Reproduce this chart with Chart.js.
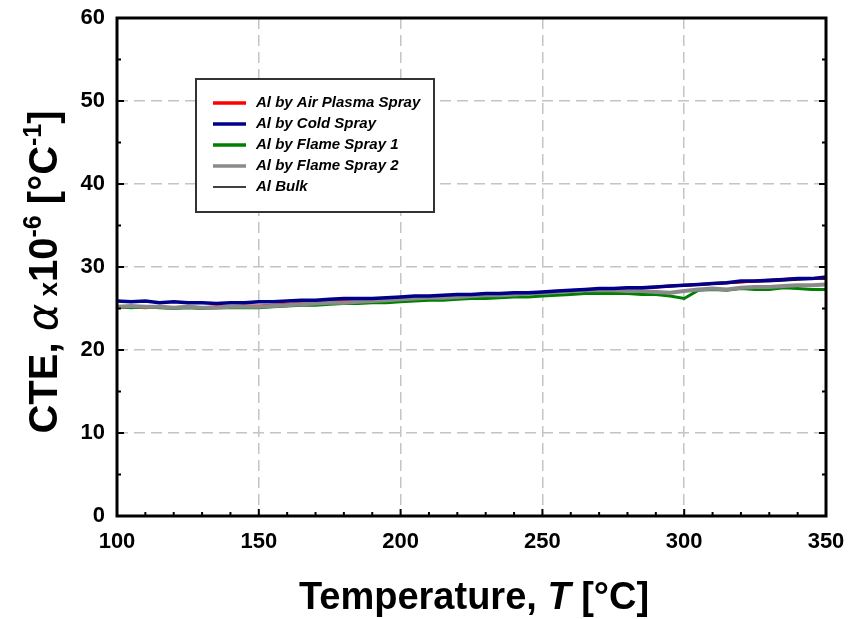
<!DOCTYPE html>
<html>
<head>
<meta charset="utf-8">
<script src="https://cdn.jsdelivr.net/npm/chart.js@4.4.0/dist/chart.umd.min.js"></script>
<style>
  html, body { margin: 0; padding: 0; background: #fff; }
</style>
</head>
<body>
<canvas id="graficoCTE" width="851" height="619"></canvas>
<script>
// Temperatura [°C]
const temperaturas = [
  100, 105, 110, 115, 120, 125, 130, 135, 140, 145,
  150, 155, 160, 165, 170, 175, 180, 185, 190, 195,
  200, 205, 210, 215, 220, 225, 230, 235, 240, 245,
  250, 255, 260, 265, 270, 275, 280, 285, 290, 295,
  300, 305, 310, 315, 320, 325, 330, 335, 340, 345, 350
];

// CTE x10^-6 por serie
const airPlasma = [
  25.1, 25.2, 25.1, 25.2, 25.1, 25.2, 25.1, 25.2, 25.2, 25.3,
  25.3, 25.4, 25.5, 25.6, 25.7, 25.8, 25.9, 25.9, 26.0, 26.0,
  26.1, 26.2, 26.3, 26.4, 26.5, 26.5, 26.6, 26.7, 26.8, 26.8,
  26.9, 27.0, 27.1, 27.2, 27.3, 27.4, 27.4, 27.5, 27.6, 27.7,
  27.8, 27.9, 28.0, 28.1, 28.2, 28.3, 28.4, 28.5, 28.6, 28.6, 28.7
];
const coldSpray = [
  25.9, 25.8, 25.9, 25.7, 25.8, 25.7, 25.7, 25.6, 25.7, 25.7,
  25.8, 25.8, 25.9, 26.0, 26.0, 26.1, 26.2, 26.2, 26.2, 26.3,
  26.4, 26.5, 26.5, 26.6, 26.7, 26.7, 26.8, 26.8, 26.9, 26.9,
  27.0, 27.1, 27.2, 27.3, 27.4, 27.4, 27.5, 27.5, 27.6, 27.7,
  27.8, 27.9, 28.0, 28.1, 28.3, 28.3, 28.4, 28.5, 28.6, 28.6, 28.8
];
const flameSpray1 = [
  25.2, 25.1, 25.2, 25.1, 25.0, 25.1, 25.0, 25.1, 25.1, 25.1,
  25.1, 25.2, 25.3, 25.4, 25.4, 25.5, 25.6, 25.6, 25.7, 25.7,
  25.8, 25.9, 26.0, 26.0, 26.1, 26.2, 26.2, 26.3, 26.4, 26.4,
  26.5, 26.6, 26.7, 26.8, 26.8, 26.8, 26.8, 26.7, 26.7, 26.5,
  26.2, 27.2, 27.3, 27.2, 27.4, 27.3, 27.3, 27.5, 27.4, 27.3, 27.3
];
const flameSpray2 = [
  25.2, 25.3, 25.2, 25.2, 25.1, 25.2, 25.1, 25.1, 25.2, 25.2,
  25.2, 25.3, 25.4, 25.5, 25.6, 25.7, 25.7, 25.8, 25.9, 26.0,
  26.1, 26.2, 26.3, 26.3, 26.4, 26.5, 26.6, 26.6, 26.7, 26.8,
  26.9, 27.0, 27.1, 27.2, 27.2, 27.2, 27.1, 27.1, 27.0, 26.9,
  27.1, 27.3, 27.4, 27.3, 27.5, 27.6, 27.6, 27.7, 27.8, 27.8, 27.9
];
const bulk = [
  25.1, 25.1, 25.1, 25.1, 25.1, 25.1, 25.1, 25.1, 25.2, 25.2,
  25.3, 25.3, 25.4, 25.5, 25.6, 25.7, 25.8, 25.8, 25.9, 26.0,
  26.1, 26.2, 26.2, 26.3, 26.4, 26.5, 26.6, 26.6, 26.7, 26.8,
  26.9, 27.0, 27.0, 27.1, 27.2, 27.3, 27.3, 27.4, 27.5, 27.6,
  27.7, 27.8, 27.9, 28.0, 28.1, 28.2, 28.2, 28.3, 28.4, 28.5, 28.5
];

const etiquetas = [
  "Al by Air Plasma Spray",
  "Al by Cold Spray",
  "Al by Flame Spray 1",
  "Al by Flame Spray 2",
  "Al Bulk"
];
const series = [airPlasma, coldSpray, flameSpray1, flameSpray2, bulk];
const colores = ["#ff0000", "#000088", "#008000", "#8a8a8a", "#000000"];
const grosores = [3, 3.5, 3, 4, 1];
const ordenes = [5, 2, 4, 3, 6];

const FUENTE = '"Liberation Sans", Arial, Helvetica, sans-serif';

const datasets = series.map((valores, i) => ({
  label: etiquetas[i],
  data: temperaturas.map((t, j) => ({ x: t, y: valores[j] })),
  borderColor: colores[i],
  backgroundColor: colores[i],
  borderWidth: grosores[i],
  pointRadius: 0,
  tension: 0,
  order: ordenes[i]
}));

// dibuja trozos de texto seguidos (normal / superindice)
function textoCompuesto(ctx, partes, x, y) {
  let ancho = 0;
  partes.forEach(p => { ctx.font = p.font; ancho += ctx.measureText(p.t).width; });
  let cx = x - ancho / 2;
  partes.forEach(p => {
    ctx.font = p.font;
    ctx.fillText(p.t, cx, y - (p.sube || 0));
    cx += ctx.measureText(p.t).width;
  });
}

const marcoYTextos = {
  id: "marcoYTextos",
  afterDraw(chart) {
    const ctx = chart.ctx;
    const { left, right, top, bottom } = chart.chartArea;
    const sx = chart.scales.x, sy = chart.scales.y;
    ctx.save();

    // leyenda en recuadro
    const lx = 196, ly = 79, lw = 238, lh = 133;
    ctx.fillStyle = "#fff";
    ctx.fillRect(lx, ly, lw, lh);
    ctx.strokeStyle = "#333";
    ctx.lineWidth = 2;
    ctx.strokeRect(lx, ly, lw, lh);
    etiquetas.forEach((et, i) => {
      const yy = 103 + i * 21;
      ctx.strokeStyle = colores[i];
      ctx.lineWidth = i === 4 ? 1.5 : 3.5;
      ctx.beginPath();
      ctx.moveTo(213, yy);
      ctx.lineTo(246, yy);
      ctx.stroke();
      ctx.fillStyle = "#000";
      ctx.font = "italic bold 15px " + FUENTE;
      ctx.textBaseline = "middle";
      ctx.textAlign = "left";
      ctx.fillText(et, 256, yy);
    });

    // marco
    ctx.strokeStyle = "#000";
    ctx.lineWidth = 3;
    ctx.strokeRect(left, top, right - left, bottom - top);

    // marcas hacia dentro
    ctx.lineWidth = 2;
    for (let v = 100; v <= 350; v += 10) {
      const px = sx.getPixelForValue(v);
      const largo = v % 50 === 0 ? 7 : 4;
      ctx.beginPath();
      ctx.moveTo(px, bottom);
      ctx.lineTo(px, bottom - largo);
      ctx.stroke();
    }
    for (let v = 0; v <= 60; v += 5) {
      const py = sy.getPixelForValue(v);
      const largo = v % 10 === 0 ? 7 : 4;
      ctx.beginPath();
      ctx.moveTo(left, py);
      ctx.lineTo(left + largo, py);
      ctx.moveTo(right, py);
      ctx.lineTo(right - largo, py);
      ctx.stroke();
    }

    // etiquetas de las marcas (a partir de los ticks de cada escala)
    ctx.fillStyle = "#000";
    ctx.font = "bold 22px " + FUENTE;
    ctx.textAlign = "center";
    ctx.textBaseline = "middle";
    sx.ticks.forEach(t => {
      ctx.fillText(String(t.value), sx.getPixelForValue(t.value), bottom + 26);
    });
    ctx.textAlign = "right";
    sy.ticks.forEach(t => {
      ctx.fillText(String(t.value), left - 12, sy.getPixelForValue(t.value));
    });

    // titulos de ejes
    ctx.textAlign = "left";
    ctx.textBaseline = "alphabetic";
    textoCompuesto(ctx, [
      { t: "Temperature, ", font: "bold 38px " + FUENTE },
      { t: "T", font: "italic bold 38px " + FUENTE },
      { t: " [°C]", font: "bold 38px " + FUENTE }
    ], 474, 609);

    ctx.translate(57, 272);
    ctx.rotate(-Math.PI / 2);
    textoCompuesto(ctx, [
      { t: "CTE, ", font: "bold 40px " + FUENTE },
      { t: "α", font: 'italic 42px "DejaVu Sans", "Liberation Serif", serif' },
      { t: " x", font: "bold 26px " + FUENTE },
      { t: "10", font: "bold 40px " + FUENTE },
      { t: "-6", font: "bold 25px " + FUENTE, sube: 16 },
      { t: " [°C", font: "bold 40px " + FUENTE },
      { t: "-1", font: "bold 25px " + FUENTE, sube: 16 },
      { t: "]", font: "bold 40px " + FUENTE }
    ], 0, 0);
    ctx.restore();
  }
};

new Chart(document.getElementById("graficoCTE").getContext("2d"), {
  type: "line",
  data: { datasets },
  options: {
    responsive: false,
    animation: false,
    devicePixelRatio: 1,
    layout: { padding: { top: 18, right: 25, left: 0, bottom: 0 } },
    plugins: {
      legend: { display: false },
      tooltip: { enabled: false }
    },
    scales: {
      x: {
        type: "linear",
        min: 100,
        max: 350,
        ticks: { stepSize: 50, autoSkip: false, display: false },
        grid: { color: "#c4c4c4", lineWidth: 1.5, drawTicks: false },
        border: { display: false, dash: [11, 6] },
        afterFit: s => { s.height = 103; }
      },
      y: {
        min: 0,
        max: 60,
        ticks: { stepSize: 10, autoSkip: false, display: false },
        grid: { color: "#c4c4c4", lineWidth: 1.5, drawTicks: false },
        border: { display: false, dash: [11, 6] },
        afterFit: s => { s.width = 117; }
      }
    }
  },
  plugins: [marcoYTextos]
});
</script>
</body>
</html>
